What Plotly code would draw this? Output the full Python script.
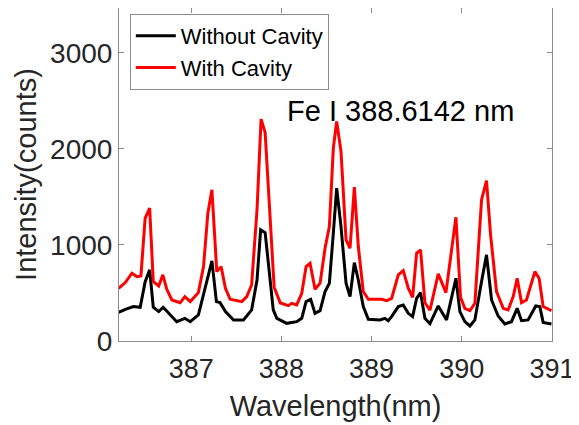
import plotly.graph_objects as go

# Without Cavity (black)
wl_without = [386.195, 386.27, 386.36, 386.435, 386.49, 386.54, 386.58, 386.64, 386.69, 386.75,
              386.84, 386.93, 386.99, 387.08, 387.17, 387.23, 387.28, 387.32, 387.38, 387.47,
              387.58, 387.67, 387.73, 387.77, 387.82, 387.87, 387.91, 387.95, 388.06, 388.17,
              388.226, 388.274, 388.325, 388.373, 388.429, 388.484, 388.532, 388.576, 388.613, 388.661,
              388.717, 388.761, 388.809, 388.853, 388.908, 388.964, 389.093, 389.148, 389.185, 389.222,
              389.296, 389.351, 389.407, 389.455, 389.499, 389.543, 389.591, 389.647, 389.739, 389.831,
              389.935, 389.979, 390.034, 390.09, 390.145, 390.219, 390.274, 390.33, 390.403, 390.477,
              390.551, 390.614, 390.662, 390.735, 390.82, 390.865, 390.902, 390.994]
int_without = [299, 330, 358, 351, 618, 740, 351, 306, 351, 288,
               201, 236, 201, 271, 618, 833, 410, 399, 306, 219,
               219, 323, 635, 1156, 1128, 670, 323, 236, 184, 201,
               236, 410, 434, 288, 316, 514, 601, 1122, 1590, 1191,
               601, 462, 816, 635, 358, 226, 219, 236, 212, 253,
               358, 375, 288, 253, 444, 503, 236, 180, 365, 219,
               653, 306, 201, 156, 219, 618, 896, 427, 260, 177,
               201, 340, 212, 219, 365, 358, 194, 177]

# With Cavity (red)
wl_with = [386.195, 386.27, 386.343, 386.398, 386.443, 386.49, 386.54, 386.58, 386.64, 386.686,
           386.73, 386.786, 386.878, 386.93, 386.99, 387.08, 387.137, 387.185, 387.23, 387.284,
           387.332, 387.38, 387.432, 387.561, 387.616, 387.67, 387.73, 387.775, 387.82, 387.87,
           387.92, 387.988, 388.078, 388.115, 388.17, 388.226, 388.274, 388.318, 388.373, 388.429,
           388.484, 388.532, 388.576, 388.613, 388.661, 388.717, 388.761, 388.809, 388.853, 388.908,
           388.964, 389.111, 389.167, 389.222, 389.296, 389.351, 389.407, 389.455, 389.499, 389.543,
           389.591, 389.647, 389.739, 389.824, 389.935, 389.986, 390.034, 390.09, 390.145, 390.219,
           390.274, 390.319, 390.385, 390.459, 390.514, 390.57, 390.614, 390.662, 390.717, 390.81,
           390.857, 390.902, 390.994]
int_with = [549, 608, 705, 670, 677, 1278, 1382, 618, 573, 688,
            538, 427, 399, 462, 410, 503, 774, 1330, 1573, 722,
            774, 549, 434, 410, 462, 583, 1365, 2309, 2170, 1300,
            560, 395, 368, 392, 375, 497, 774, 809, 538, 601,
            965, 1191, 2007, 2285, 1972, 1052, 965, 1601, 983, 514,
            434, 434, 420, 444, 688, 733, 549, 455, 913, 948,
            400, 320, 698, 503, 1288, 455, 340, 316, 392, 1469,
            1670, 1104, 514, 340, 323, 462, 653, 399, 427, 722,
            653, 358, 316]

x_ticks = [387, 388, 389, 390, 391]
y_ticks = [0, 1000, 2000, 3000]

FONT = "Liberation Sans, Arial, sans-serif"
TXT = "#262626"
AX = "#8c8c8c"

fig = go.Figure()
fig.add_trace(go.Scatter(x=wl_without, y=int_without, mode="lines", name="Without Cavity",
                         line=dict(color="#000000", width=3)))
fig.add_trace(go.Scatter(x=wl_with, y=int_with, mode="lines", name="With Cavity",
                         line=dict(color="#ff0000", width=3)))

fig.add_annotation(x=389.32, y=2395, xref="x", yref="y", text="Fe I 388.6142 nm",
                   showarrow=False, font=dict(family=FONT, size=29, color="#000000"))

# page body has an 8px default margin, so the figure is sized to compensate
fig.update_layout(
    width=571, height=417,
    margin=dict(l=111, r=27, t=0, b=84, autoexpand=False),
    paper_bgcolor="white", plot_bgcolor="white",
    font=dict(family=FONT, color=TXT),
    showlegend=True,
    legend=dict(x=0.025, y=0.982, xanchor="left", yanchor="top",
                bordercolor=AX, borderwidth=1, bgcolor="white",
                font=dict(family=FONT, size=22, color="#000000"),
                tracegroupgap=0, itemwidth=40),
)
fig.update_xaxes(range=[386.2, 391], tickvals=x_ticks, ticktext=[str(v) for v in x_ticks],
                 automargin=False,
                 showgrid=False, zeroline=False, showline=True, linecolor=AX, linewidth=1,
                 mirror="ticks", ticks="inside", ticklen=5, tickcolor=AX,
                 ticklabelstandoff=4,
                 tickfont=dict(family=FONT, size=27, color=TXT),
                 title=dict(text="Wavelength(nm)", font=dict(family=FONT, size=29, color=TXT), standoff=12))
fig.update_yaxes(range=[0, 3465], tickvals=y_ticks, ticktext=[str(v) for v in y_ticks],
                 automargin=False,
                 showgrid=False, zeroline=False, showline=True, linecolor=AX, linewidth=1,
                 mirror="ticks", ticks="inside", ticklen=5, tickcolor=AX,
                 tickfont=dict(family=FONT, size=28, color=TXT),
                 title=dict(text="Intensity(counts)", font=dict(family=FONT, size=29, color=TXT), standoff=4))

fig.write_html("out.html")
